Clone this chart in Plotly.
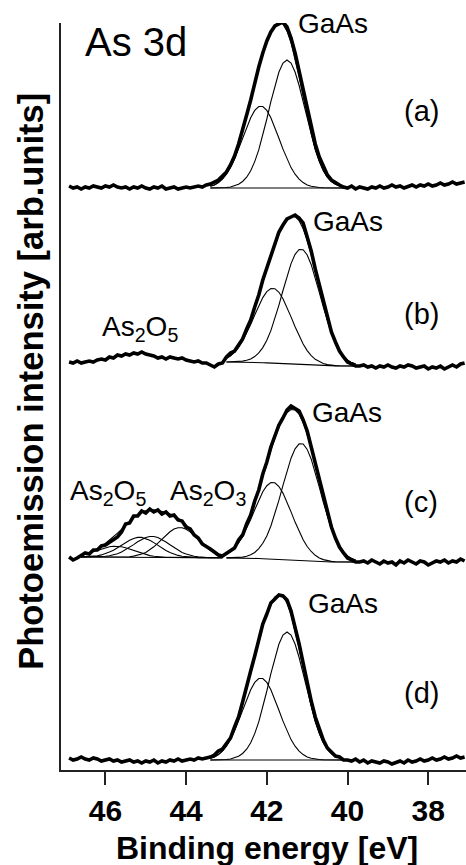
import plotly.graph_objects as go

# ---------------- data ----------------
E_START, E_STEP, N_POINTS = 46.9, 0.1, 99
energy = [round(E_START - E_STEP * i, 1) for i in range(N_POINTS)]   # 46.9 ... 37.1 eV

x_ticks = [46, 44, 42, 40, 38]
panel_labels = ["(a)", "(b)", "(c)", "(d)"]
panel_offsets = [582, 405, 210, 10]          # vertical stacking of the four spectra

# measured spectra (intensity above each panel's baseline, arb. units)
exp_a = [2, 0, 1, -1, 1, 0, 2, 1, 0, 2, 1, 3, 1, 0, 1, -1, 1, 0, 2, 0,
         -1, 1, 0, 2, -1, 0, 1, -1, 0, 1, 0, 1, 2, 1, 3,
         4, 6, 8, 12, 16, 23, 32, 44, 57, 73, 88, 105, 121, 135, 147, 156, 162, 164, 166, 161,
         150, 135, 117, 98, 78, 60, 44, 31, 21, 13, 8, 5, 3, 1,
         0, 2, -1, 1, 0, -1, 1, 0, 2, 0, 1, 3, 1, 2, 0, 2, 3, 1, 3, 2,
         4, 2, 3, 5, 3, 4, 6, 4, 5, 6]
exp_b = [3, 2, 4, 2, 3, 4, 3, 5, 6, 5, 8, 7, 10, 9, 11, 10, 12, 11, 13, 11,
         10, 9, 7, 8, 6, 8, 7, 6, 7, 5, 4, 3, 4, 2, 2, 0, -2, 1, 2,
         8, 12, 14, 20, 26, 36, 45, 58, 70, 85, 97, 111, 121, 133, 140, 146, 148, 150, 147, 142,
         128, 114, 96, 80, 62, 47, 33, 23, 14, 8, 3, 1, -1,
         -1, 0, -2, -1, -3, -1, -2, 0, -2, -3, -1, -2, 0, -1, -3, -2, -1, -4, -2, -3,
         -1, -4, -2, 0, -2, 1, 2]
exp_c = [3, 0, 2, 4, 7, 6, 10, 10, 14, 15, 18, 21, 23, 28, 36, 37, 44, 44, 49, 47,
         51, 48, 50, 46, 48, 44, 45, 40, 39, 33, 31, 25, 22, 16, 14, 11, 8, 5, 4,
         7, 10, 12, 20, 25, 36, 45, 59, 70, 86, 98, 113, 123, 135, 142, 150, 154, 152, 149, 140,
         129, 113, 97, 79, 62, 46, 33, 22, 13, 7, 2, 0, -2,
         -2, -1, -3, 0, -2, -4, -1, -3, -2, -5, -1, -3, 0, -2, -4, -1, -2, -5, -3, -1,
         -2, 0, -3, -1, -2, 1, -1]
exp_d = [2, 0, 1, 3, 1, 0, 2, 1, -1, 0, 1, -1, 0, -2, -1, 0, -2, -1, -3, -1,
         -2, 0, -3, -1, -2, 0, -1, 1, -1, 0, 1, 0, 2, 1, 2,
         3, 5, 9, 11, 17, 22, 33, 43, 58, 72, 89, 104, 120, 136, 146, 157, 161, 165, 164, 160,
         149, 134, 116, 97, 77, 59, 43, 30, 20, 12, 8, 4, 3, 0,
         0, -1, 1, -2, 0, -3, -1, -2, -3, -1, -2, -4, -2, -1, -3, 0, -2, -1, 1, -1,
         0, 2, 0, 1, 3, 1, 2, 4, 2, 3]

# fit components, (a) and (d): 43.4 ... 40.1 eV
energy_fit_ad = energy[35:69]
comp_a1 = [0.0, 0.0, 0.1, 0.2, 0.5, 1.0, 2.0, 3.7, 6.5, 10.8, 17.3, 26.4, 38.1, 52.6, 69.0, 86.3, 102.5,
           116.0, 124.9, 128.0, 124.9, 116.0, 102.5, 86.3, 69.0, 52.6, 38.1, 26.4, 17.3, 10.8, 6.5,
           3.7, 2.0, 1.0]
comp_a2 = [1.7, 3.1, 5.4, 8.9, 13.8, 20.4, 28.9, 38.9, 49.8, 60.6, 70.3, 77.6, 81.5, 81.5, 77.6, 70.3,
           60.6, 49.8, 38.9, 28.9, 20.4, 13.8, 8.9, 5.4, 3.1, 1.7, 0.9, 0.5, 0.2, 0.1, 0.0, 0.0, 0.0, 0.0]
bg_a = [0.0] * 34
comp_d1 = comp_a1[:]
comp_d2 = comp_a2[:]
bg_d = [0.0] * 34

# fit components, (b) and (c) GaAs part: 43.0 ... 39.8 eV
energy_fit_bc = energy[39:72]
comp_b1 = [0.0, 0.1, 0.2, 0.5, 1.0, 1.9, 3.4, 5.8, 9.6, 15.1, 22.6, 32.5, 44.5, 58.5, 73.3, 87.9, 100.7,
           110.2, 115.3, 115.3, 110.2, 100.7, 87.9, 73.3, 58.5, 44.5, 32.5, 22.6, 15.1, 9.6, 5.8, 3.4, 1.9]
comp_b2 = [3.8, 6.2, 9.8, 14.6, 21.0, 28.8, 37.8, 47.4, 56.9, 65.1, 71.3, 74.6, 74.6, 71.3, 65.1, 56.9,
           47.4, 37.8, 28.8, 21.0, 14.6, 9.8, 6.2, 3.8, 2.2, 1.2, 0.6, 0.3, 0.2, 0.1, 0.1, 0.0, 0.0]
bg_b = [3.0, 3.0, 3.0, 2.9, 2.9, 2.8, 2.7, 2.6, 2.5, 2.3, 2.1, 1.9, 1.7, 1.4, 1.2, 0.9, 0.7, 0.4, 0.2,
        0.0, -0.2, -0.4, -0.5, -0.6, -0.7, -0.8, -0.9, -0.9, -1.0, -1.0, -1.0, -1.0, -1.0]
comp_c1 = [0.0, 0.1, 0.2, 0.5, 1.0, 1.9, 3.5, 5.9, 9.8, 15.4, 23.0, 33.1, 45.3, 59.5, 74.6, 89.4, 102.4,
           112.1, 117.3, 117.3, 112.1, 102.4, 89.4, 74.6, 59.5, 45.3, 33.1, 23.0, 15.4, 9.8, 5.9, 3.5, 1.9]
comp_c2 = [3.9, 6.4, 10.1, 15.0, 21.6, 29.6, 38.8, 48.7, 58.4, 66.9, 73.2, 76.6, 76.6, 73.2, 66.9, 58.4,
           48.7, 38.8, 29.6, 21.6, 15.0, 10.1, 6.4, 3.9, 2.3, 1.2, 0.6, 0.3, 0.2, 0.1, 0.1, 0.0, 0.0]
bg_c = [2.1, 2.1, 2.0, 2.0, 1.9, 1.8, 1.7, 1.6, 1.5, 1.3, 1.1, 0.9, 0.6, 0.3, 0.0, -0.3, -0.6, -0.9,
        -1.1, -1.3, -1.5, -1.6, -1.7, -1.8, -1.9, -1.9, -2.0, -2.0, -2.0, -2.0, -2.0, -2.0, -2.0]

# oxide components of (c): 46.6 ... 43.1 eV
energy_fit_ox = energy[3:39]
ox_c1 = [1.8, 2.7, 3.9, 5.2, 6.7, 8.1, 9.4, 10.4, 10.9, 10.9, 10.4, 9.4, 8.1, 6.7, 5.2, 3.9, 2.7, 1.8,
         1.2, 0.7, 0.4, 0.2, 0.1, 0.1, 0.0, 0.0, 0.0, 0.0, 0.0, 0.0, 0.0, 0.0, 0.0, 0.0, 0.0, 0.0]
ox_c2 = [0.1, 0.2, 0.4, 0.8, 1.3, 2.2, 3.4, 5.0, 7.0, 9.5, 12.1, 14.8, 17.1, 18.9, 19.9, 19.9, 18.9,
         17.1, 14.8, 12.1, 9.5, 7.0, 5.0, 3.4, 2.2, 1.3, 0.8, 0.4, 0.2, 0.1, 0.0, 0.0, 0.0, 0.0, 0.0, 0.0]
ox_c3 = [0.0, 0.0, 0.1, 0.1, 0.2, 0.4, 0.8, 1.4, 2.3, 3.5, 5.2, 7.4, 10.0, 12.7, 15.5, 18.0, 19.9,
         20.9, 20.9, 19.9, 18.0, 15.5, 12.7, 10.0, 7.4, 5.2, 3.5, 2.3, 1.4, 0.8, 0.4, 0.2, 0.1, 0.1,
         0.0, 0.0]
ox_c4 = [0.0, 0.0, 0.0, 0.0, 0.0, 0.0, 0.0, 0.0, 0.0, 0.1, 0.2, 0.3, 0.6, 1.2, 1.9, 3.2, 5.0, 7.5,
         10.6, 14.2, 18.2, 22.2, 25.7, 28.4, 29.8, 29.8, 28.4, 25.7, 22.2, 18.2, 14.2, 10.6, 7.5,
         5.0, 3.2, 1.9]
bg_ox = [3.0, 3.0, 3.0, 3.0, 2.9, 2.9, 2.9, 2.9, 2.8, 2.8, 2.8, 2.8, 2.7, 2.7, 2.7, 2.7, 2.6, 2.6,
         2.6, 2.6, 2.5, 2.5, 2.5, 2.5, 2.4, 2.4, 2.4, 2.4, 2.3, 2.3, 2.3, 2.3, 2.2, 2.2, 2.2, 2.2]

# ---------------- figure ----------------
FONT = "Liberation Sans, Arial, Helvetica, sans-serif"
INK = "black"
fig = go.Figure()


def line(x, y, width):
    fig.add_trace(go.Scatter(x=x, y=y, mode="lines", showlegend=False, hoverinfo="skip",
                             line=dict(color=INK, width=width)))


def shift(values, offset, base=None):
    if base is None:
        return [offset + v for v in values]
    return [offset + b + v for b, v in zip(base, values)]


def panel(offset, exp, fits):
    # fits: list of (energies, background, [components])
    for xs, bg, comps in fits:
        line(xs, shift(bg, offset), 1.1)
        for c in comps:
            line(xs, shift(c, offset, bg), 1.1)
        env = [sum(vals) for vals in zip(bg, *comps)]
        line(xs, shift(env, offset), 1.1)
    line(energy, shift(exp, offset), 3.6)


panel(panel_offsets[0], exp_a, [(energy_fit_ad, bg_a, [comp_a1, comp_a2])])
panel(panel_offsets[1], exp_b, [(energy_fit_bc, bg_b, [comp_b1, comp_b2])])
panel(panel_offsets[2], exp_c, [(energy_fit_ox, bg_ox, [ox_c1, ox_c2, ox_c3, ox_c4]),
                                (energy_fit_bc, bg_c, [comp_c1, comp_c2])])
panel(panel_offsets[3], exp_d, [(energy_fit_ad, bg_d, [comp_d1, comp_d2])])

ann = []


def text(x, y, s, size, xanchor="center", weight="normal", **kw):
    ann.append(dict(x=x, y=y, text=s, showarrow=False, xanchor=xanchor, yanchor="middle",
                    font=dict(family=FONT, size=size, color=INK, weight=weight), **kw))


text(45.25, 728, "As 3d", 40)
for xg, yg in zip([40.36, 39.99, 40.02, 40.11], [747, 549, 358, 167]):
    text(xg, yg, "GaAs", 28)
for lab, yl in zip(panel_labels, [659, 456, 268, 77]):
    text(38.17, yl, lab, 29)
text(46.14, 442, "As<sub>2</sub>O<sub>5</sub>", 28, xanchor="left")
text(46.93, 278, "As<sub>2</sub>O<sub>5</sub>", 28, xanchor="left")
text(44.46, 278, "As<sub>2</sub>O<sub>3</sub>", 28, xanchor="left")

ann.append(dict(xref="paper", yref="paper", x=0.509, y=-0.1044, text="Binding energy [eV]",
                showarrow=False, xanchor="center", yanchor="middle",
                font=dict(family=FONT, size=32, color=INK, weight="bold")))
ann.append(dict(xref="paper", yref="paper", x=-0.076, y=0.52,
                text="Photoemission intensity [arb.units]", textangle=-90,
                showarrow=False, xanchor="center", yanchor="middle",
                font=dict(family=FONT, size=34.5, color=INK, weight="bold")))

fig.update_layout(
    width=466, height=865,
    margin=dict(l=61, r=0, t=23, b=95),
    paper_bgcolor="white", plot_bgcolor="white",
    annotations=ann,
    xaxis=dict(range=[47.1, 37.065], tickvals=x_ticks, ticks="outside", ticklen=13, tickwidth=1.5,
               tickcolor="#222", showline=True, linecolor="#222", linewidth=1.6,
               showgrid=False, zeroline=False,
               tickfont=dict(family=FONT, size=30, color=INK, weight="bold")),
    yaxis=dict(range=[0, 747], showticklabels=False, ticks="", showline=True, linecolor="#222",
               linewidth=1.6, showgrid=False, zeroline=False),
)

fig.write_html("out.html", config={"displayModeBar": False},
               post_script="document.body.style.margin='0';document.body.style.overflow='hidden';")
